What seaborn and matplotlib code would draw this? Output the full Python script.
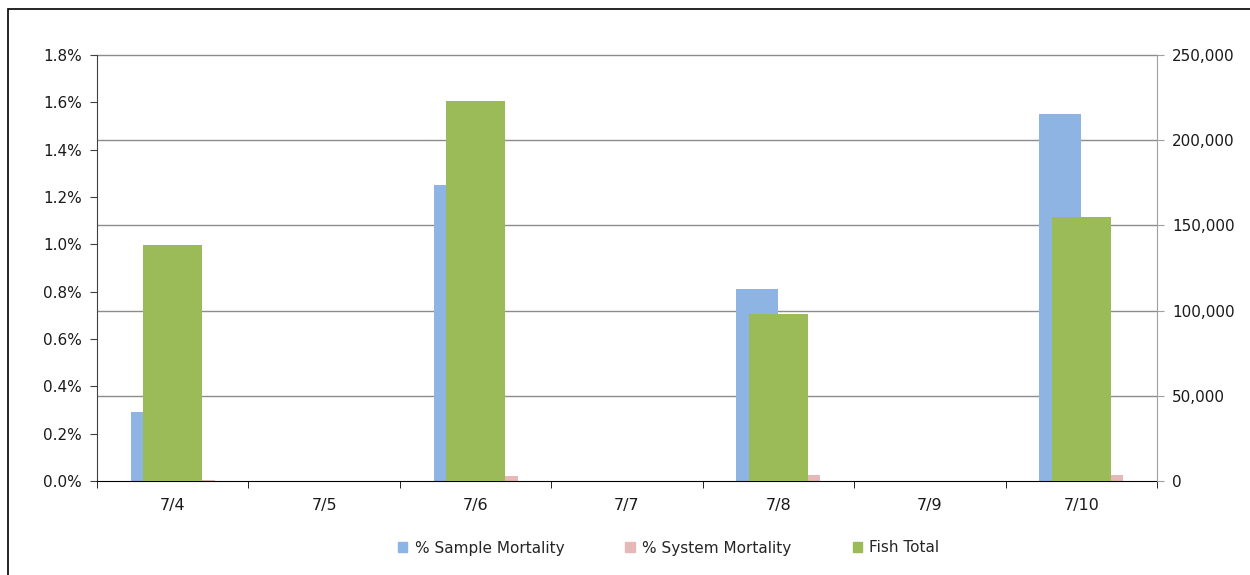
import numpy as np
import pandas as pd
import matplotlib
matplotlib.use("Agg")
import matplotlib.pyplot as plt
import matplotlib.ticker as mticker
from matplotlib.patches import Patch, Rectangle
import seaborn as sns

# data
dates = ["7/4", "7/5", "7/6", "7/7", "7/8", "7/9", "7/10"]
sample_mortality = [0.29, np.nan, 1.25, np.nan, 0.81, np.nan, 1.55]   # %
system_mortality = [0.005, np.nan, 0.02, np.nan, 0.025, np.nan, 0.025]  # %
fish_total = [138500, np.nan, 223000, np.nan, 98000, np.nan, 155000]

BLUE = "#8EB4E3"
PINK = "#E6B9B8"
GREEN = "#9BBB59"

sns.set_style("white")
plt.rcParams["font.family"] = ["DejaVu Sans"]

mort = pd.DataFrame({
    "date": dates * 2,
    "value": sample_mortality + system_mortality,
    "series": ["% Sample Mortality"] * 7 + ["% System Mortality"] * 7,
})
fish = pd.DataFrame({"date": dates, "value": fish_total})

fig = plt.figure(figsize=(12.5, 5.75), dpi=100)
fig.patches.append(Rectangle((8 / 1250, -0.01), 1.02, 1 - 9 / 575 + 0.01,
                             transform=fig.transFigure, fill=False,
                             edgecolor="#000000", linewidth=1.2))
ax = fig.add_axes([97 / 1250, 1 - 481 / 575, 1060 / 1250, 426 / 575])

sns.barplot(data=mort, x="date", y="value", hue="series", order=dates,
            palette=[BLUE, PINK], width=0.555, dodge=True, ax=ax,
            errorbar=None, legend=False, saturation=1, linewidth=0)
ax.set_ylim(0, 1.8)
ax.set_xlim(-0.5, len(dates) - 0.5)
ax.yaxis.set_major_locator(mticker.MultipleLocator(0.2))
ax.yaxis.set_major_formatter(mticker.FuncFormatter(lambda v, p: f"{v:.1f}%"))

ax2 = ax.twinx()
sns.barplot(data=fish, x="date", y="value", order=dates, color=GREEN,
            width=0.39, ax=ax2, errorbar=None, saturation=1, linewidth=0)
ax2.set_ylim(0, 250000)
ax2.set_xlim(-0.5, len(dates) - 0.5)
ax2.yaxis.set_major_locator(mticker.MultipleLocator(50000))
ax2.yaxis.set_major_formatter(mticker.FuncFormatter(lambda v, p: f"{int(v):,}"))

# gridlines follow the right axis but sit behind all bars
grid_pos = np.arange(50000, 250000, 50000) / 250000 * 1.8
ax.set_yticks(grid_pos, minor=True)
ax.yaxis.grid(True, which="minor", color="#8c8c8c", linewidth=1.0)
ax.yaxis.grid(False, which="major")
ax.axhline(ax.get_ylim()[1], color="#8c8c8c", linewidth=1.0, zorder=0.5,
           clip_on=False)
ax.set_axisbelow(True)
ax.tick_params(axis="y", which="minor", length=0)

for a in (ax, ax2):
    a.set_xlabel("")
    a.set_ylabel("")
    a.spines["top"].set_visible(False)
ax.spines["right"].set_visible(False)
ax.spines["left"].set_color("#404040")
ax.spines["bottom"].set_color("#000000")
ax2.spines["left"].set_visible(False)
ax2.spines["bottom"].set_visible(False)
ax2.spines["right"].set_color("#a0a0a0")

# category boundary ticks on x
ax.set_xticks(np.arange(len(dates)))
ax.set_xticklabels(dates)
ax.set_xticks(np.arange(-0.5, len(dates)), minor=True)
ax.tick_params(axis="x", which="major", length=0, pad=12, labelsize=11.5,
               labelcolor="#1a1a1a")
ax.tick_params(axis="x", which="minor", length=5, direction="out",
               color="#000000", bottom=True)
ax.tick_params(axis="y", which="major", length=5, direction="out", left=True,
               color="#404040", labelsize=11, labelcolor="#1a1a1a", pad=6)
ax2.tick_params(axis="y", length=5, direction="out", right=True,
                color="#a0a0a0", labelsize=11, labelcolor="#1a1a1a", pad=6)
ax2.tick_params(axis="x", length=0, labelbottom=False)

handles = [Patch(color=BLUE, label="% Sample Mortality"),
           Patch(color=PINK, label="% System Mortality"),
           Patch(color=GREEN, label="Fish Total")]
fig.legend(handles=handles, loc="center", bbox_to_anchor=(0.535, 1 - 548 / 575),
           ncol=3, frameon=False, handlelength=0.6, handleheight=0.6,
           handletextpad=0.5, columnspacing=4.0, fontsize=11)

fig.savefig("out.png", dpi=100, facecolor="white")
